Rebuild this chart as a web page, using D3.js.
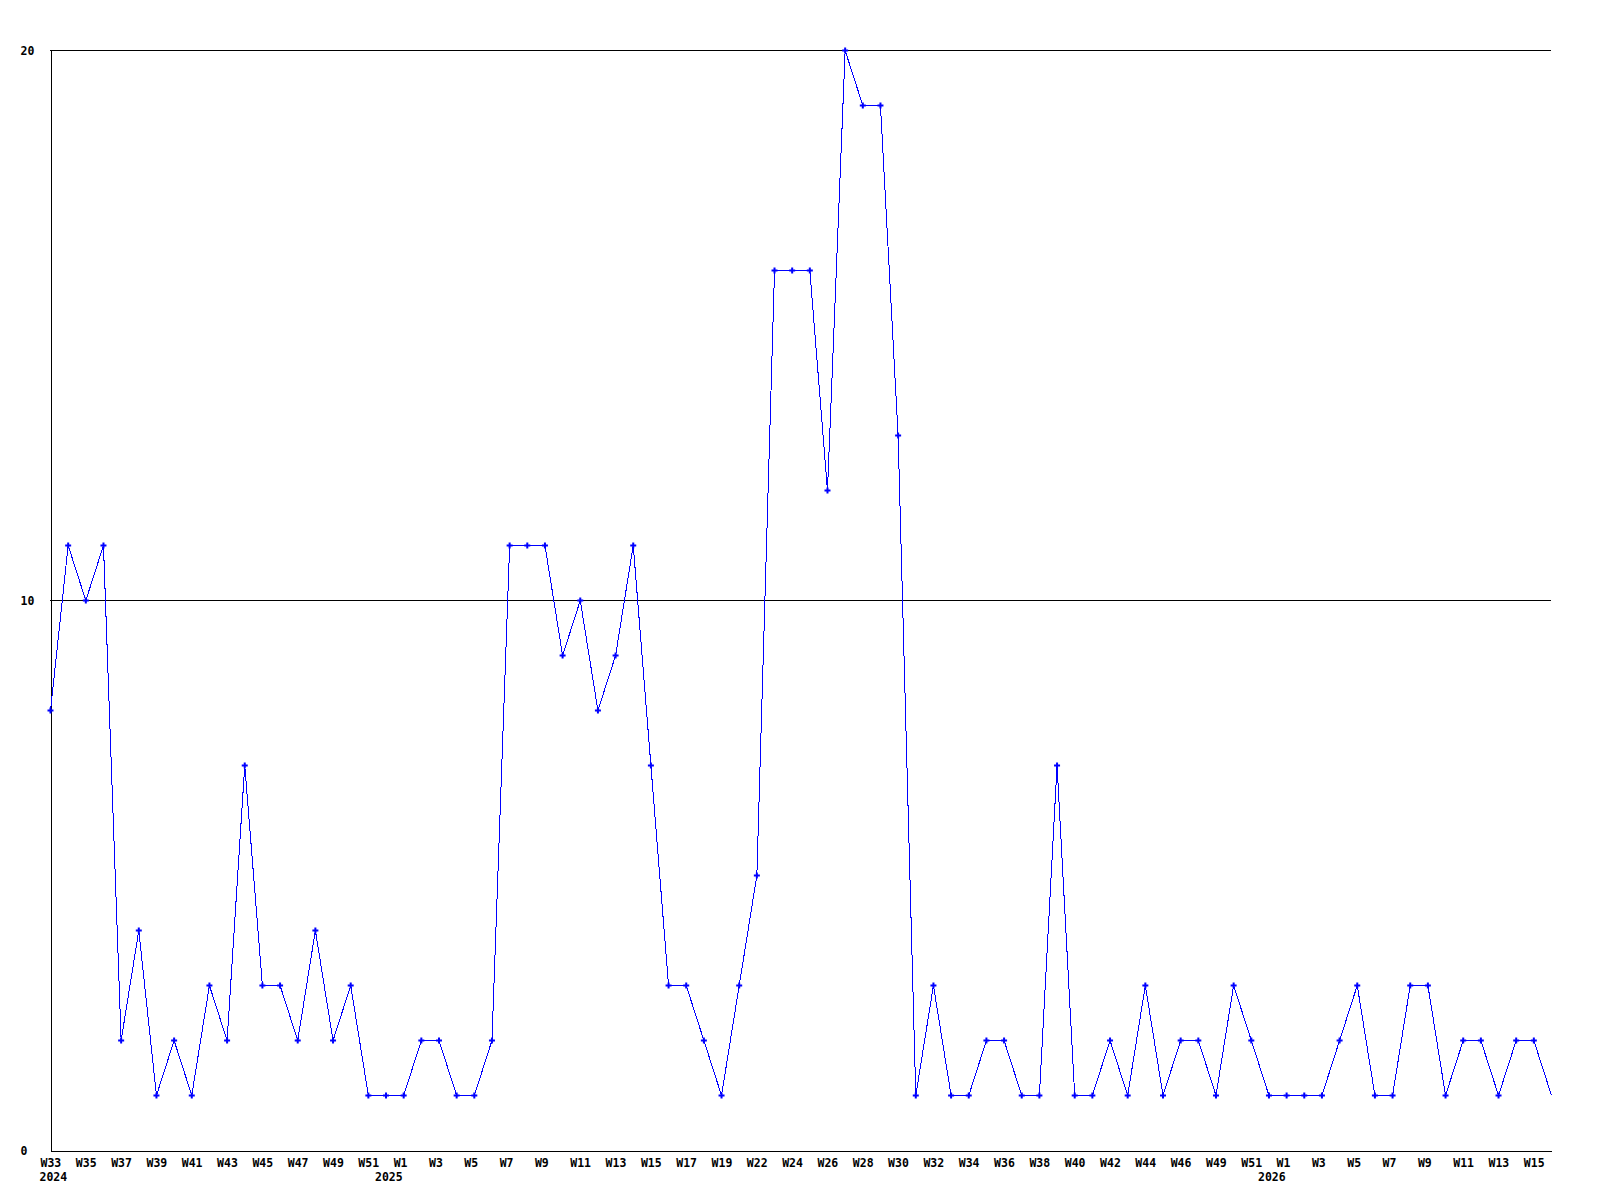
<!DOCTYPE html>
<html>
<head>
<meta charset="utf-8">
<script src="https://cdn.jsdelivr.net/npm/d3@7"></script>
<style>
  body { margin: 0; background: #fff; }
  svg text { font-family: "DejaVu Sans Mono", "Liberation Mono", monospace; font-weight: bold; font-size: 11.5px; fill: #000; }
</style>
</head>
<body>
<svg id="chart" width="1600" height="1200"></svg>
<script>
// one entry per weekly point, in order
const weeks = [
  "2024-W33", "2024-W34", "2024-W35", "2024-W36", "2024-W37", "2024-W38", "2024-W39", "2024-W40",
  "2024-W41", "2024-W42", "2024-W43", "2024-W44", "2024-W45", "2024-W46", "2024-W47", "2024-W48",
  "2024-W49", "2024-W50", "2024-W51", "2024-W52",
  "2025-W1", "2025-W2", "2025-W3", "2025-W4", "2025-W5", "2025-W6", "2025-W7", "2025-W8",
  "2025-W9", "2025-W10", "2025-W11", "2025-W12", "2025-W13", "2025-W14", "2025-W15", "2025-W16",
  "2025-W17", "2025-W18", "2025-W19", "2025-W20", "2025-W22", "2025-W23", "2025-W24", "2025-W25",
  "2025-W26", "2025-W27", "2025-W28", "2025-W29", "2025-W30", "2025-W31", "2025-W32", "2025-W33",
  "2025-W34", "2025-W35", "2025-W36", "2025-W37", "2025-W38", "2025-W39", "2025-W40", "2025-W41",
  "2025-W42", "2025-W43", "2025-W44", "2025-W45", "2025-W46", "2025-W47", "2025-W49", "2025-W50",
  "2025-W51", "2025-W52",
  "2026-W1", "2026-W2", "2026-W3", "2026-W4", "2026-W5", "2026-W6", "2026-W7", "2026-W8",
  "2026-W9", "2026-W10", "2026-W11", "2026-W12", "2026-W13", "2026-W14", "2026-W15", "2026-W16"
];

const counts = [
  8, 11, 10, 11, 2, 4, 1, 2,
  1, 3, 2, 7, 3, 3, 2, 4,
  2, 3, 1, 1,
  1, 2, 2, 1, 1, 2, 11, 11,
  11, 9, 10, 8, 9, 11, 7, 3,
  3, 2, 1, 3, 5, 16, 16, 16,
  12, 20, 19, 19, 13, 1, 3, 1,
  1, 2, 2, 1, 1, 7, 1, 1,
  2, 1, 3, 1, 2, 2, 1, 3,
  2, 1,
  1, 1, 1, 2, 3, 1, 1, 3,
  3, 1, 2, 2, 1, 2, 2, 1
];

const yTicks = [0, 10, 20];
const gridValues = [10, 20];
const yearLabels = [
  { week: "2024-W33", text: "2024" },
  { week: "2024-W52", text: "2025" },
  { week: "2025-W52", text: "2026" }
];

const data = weeks.map((w, i) => ({ week: w, value: counts[i] }));

const svg = d3.select("#chart");
const plot = { left: 50, right: 1551, top: 50, bottom: 1150 };

const x = d3.scalePoint().domain(weeks).range([plot.left, plot.right]);
const y = d3.scaleLinear().domain([0, 20]).range([plot.bottom, plot.top]);

// horizontal grid lines
svg.append("g")
  .selectAll("line")
  .data(gridValues)
  .join("line")
  .attr("x1", plot.left)
  .attr("x2", plot.right)
  .attr("y1", (d) => Math.round(y(d)) + 0.5)
  .attr("y2", (d) => Math.round(y(d)) + 0.5)
  .attr("stroke", "#000")
  .attr("shape-rendering", "crispEdges");

// y axis
const yAxis = svg.append("g")
  .attr("transform", `translate(${plot.left + 0.5},0.5)`)
  .call(d3.axisLeft(y).tickValues(yTicks).tickSize(0).tickFormat(d3.format("d")));
yAxis.select(".domain").attr("stroke", "#000").attr("shape-rendering", "crispEdges");
yAxis.selectAll("text")
  .attr("x", -30)
  .attr("dy", null)
  .attr("y", 4)
  .attr("text-anchor", "start")
  .attr("font-family", null)
  .attr("font-size", null);

// x axis, every second week labelled
const xAxis = svg.append("g")
  .attr("transform", `translate(0.5,${plot.bottom + 0.5})`)
  .call(d3.axisBottom(x)
    .tickValues(weeks.filter((d, i) => i % 2 === 0))
    .tickSize(0)
    .tickFormat((d) => d.split("-")[1]));
xAxis.select(".domain").attr("stroke", "#000").attr("shape-rendering", "crispEdges");
xAxis.selectAll("text")
  .attr("dy", null)
  .attr("y", 16)
  .attr("x", -10.5)
  .attr("text-anchor", "start")
  .attr("font-family", null)
  .attr("font-size", null);

svg.append("g")
  .selectAll("text")
  .data(yearLabels)
  .join("text")
  .attr("x", (d) => x(d.week) - 10.5)
  .attr("y", plot.bottom + 31)
  .text((d) => d.text);

// series line
const line = d3.line()
  .x((d) => x(d.week) + 0.5)
  .y((d) => y(d.value) + 0.5);

svg.append("path")
  .datum(data)
  .attr("d", line)
  .attr("fill", "none")
  .attr("stroke", "#0000ff")
  .attr("stroke-width", 1)
  .attr("shape-rendering", "crispEdges");

// point markers (the last point has none)
svg.append("g")
  .selectAll("path")
  .data(data.slice(0, -1))
  .join("path")
  .attr("transform", (d) => `translate(${x(d.week) + 0.5},${y(d.value) + 0.5})`)
  .attr("d", d3.symbol(d3.symbolCross, 20))
  .attr("fill", "#0000ff");
</script>
</body>
</html>
